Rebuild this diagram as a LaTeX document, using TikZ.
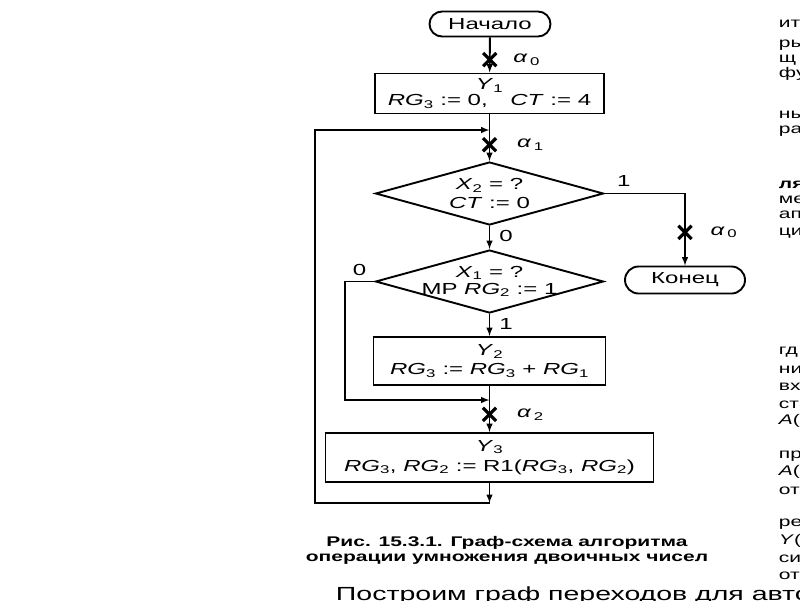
\documentclass[tikz,border=0pt]{standalone}
\usepackage{fontspec}
\setmainfont{Liberation Sans}[FakeStretch=1.5]
\usetikzlibrary{arrows,positioning,shapes.geometric,shapes.misc}
\newcommand{\vr}[2]{\textit{#1}\textsubscript{#2}}
\newcommand{\al}[1]{\textit{α}\,\textsubscript{#1}}

\begin{document}
\begin{tikzpicture}[x=1pt,y=-1pt,line width=1.9pt,>=latex,
  every node/.style={font=\fontsize{16}{15}\selectfont},
  term/.style={draw,rounded rectangle,minimum width=121pt,minimum height=25pt,inner sep=0pt},
  opbox/.style={draw,rectangle,align=center,inner sep=0pt},
  cond/.style={draw,diamond,minimum width=228pt,minimum height=63pt,inner sep=0pt},
  xmark/.style={cross out,draw,minimum size=10pt,inner sep=0pt,line width=3.2pt},
  lbl/.style={inner sep=0pt},
  side/.style={font=\fontsize{14}{14}\selectfont,anchor=west,inner sep=0pt}]
\useasboundingbox (0,0) rectangle (800,600);
\clip (0,0) rectangle (800,600);

% blocks
\node[term] (start) at (490,24) {Начало};
\node[opbox,minimum width=229pt,minimum height=40pt] (y1) at (489.5,93.5)
  {\vr{Y}{1}\\[1pt] \vr{RG}{3} := 0,\quad\ \textit{CT} := 4};
\node[cond] (d1) at (489.5,193.5) {};
\node[lbl,align=center] (d1t) at (d1) {\vr{X}{2} = ?\\[4pt] \textit{CT} := 0};
\node[cond] (d2) at (489.5,281.5) {};
\node[lbl,align=center] (d2t) at (d2) {\vr{X}{1} = ?\\[2pt] MP \vr{RG}{2} := 1};
\node[opbox,minimum width=232pt,minimum height=48pt] (y2) at (489.5,361)
  {\vr{Y}{2}\\[4pt] \vr{RG}{3} := \vr{RG}{3} + \vr{RG}{1}};
\node[opbox,minimum width=328pt,minimum height=49pt] (y3) at (489.5,457.5)
  {\vr{Y}{3}\\[5pt] \vr{RG}{3}, \vr{RG}{2} := R1(\vr{RG}{3}, \vr{RG}{2})};
\node[term,minimum width=120pt,minimum height=27pt] (stop) at (685,280) {Конец};

\coordinate (j1) at (489.5,130);
\coordinate (j2) at (489.5,400);
\coordinate (j3) at (489.5,503);
\coordinate (lp) at (315,503);

% connectors
\draw[->] (start) -- node[xmark,pos=0.63] (m0) {} (y1);
\node[lbl,right=16pt of m0] (a0) {\al{0}};
\draw[->] (y1) -- node[xmark,pos=0.65] (m1) {} (d1.north);
\node[lbl,right=20pt of m1] (a1) {\al{1}};
\draw[->] (d1.east) -| node[lbl,pos=0.12,above=6pt] (l1) {1}
  node[xmark,pos=0.77] (m3) {} (stop.north);
\node[lbl,right=18pt of m3] (a3) {\al{0}};
\draw[->] (d1.south) -- node[lbl,pos=0.45,right=9pt] (l0) {0} (d2.north);
\draw[->] (d2.south) -- node[lbl,pos=0.45,right=9pt] (l2) {1} (y2.north);
\draw[->] (d2.west) -- node[lbl,above=5pt] (l3) {0} ++(-30,0) |- (j2);
\draw (y2.south) -- (j2);
\draw[->] (j2) -- node[xmark,pos=0.45] (m2) {} (y3.north);
\node[lbl,right=20pt of m2] (a2) {\al{2}};
\draw[->] (y3.south) -- (j3);
\draw[->] (j3) -- (lp) |- (j1);

% caption and page text
\node[font=\bfseries\fontsize{14}{15}\selectfont,align=center] (cap) at (507,550)
  {Рис. 15.3.1. Граф-схема алгоритма\\операции умножения двоичных чисел};
\node[font=\fontsize{19}{19}\selectfont,anchor=north west,inner sep=0pt] (bot) at (335,586)
  {Построим граф переходов для авто};
\foreach \t/\y/\n in {ит/24/1,ры/45/2,щ/60/3,фу/74/4,ны/115/5,ра/131/6,
  \textbf{ля}/185/7,ме/200/8,ап/215/9,ци/233/10,гд/352/11,ни/370/12,вх/387/13,
  ст/405/14,\textit{A}(/421/15,пр/456/16,\textit{A}(/472/17,от/491/18,
  ре/524/19,\textit{Y}(/541/20,си/559/21,от/576/22}
  \node[side] (r\n) at (778,\y) {\t};
\end{tikzpicture}
\end{document}
